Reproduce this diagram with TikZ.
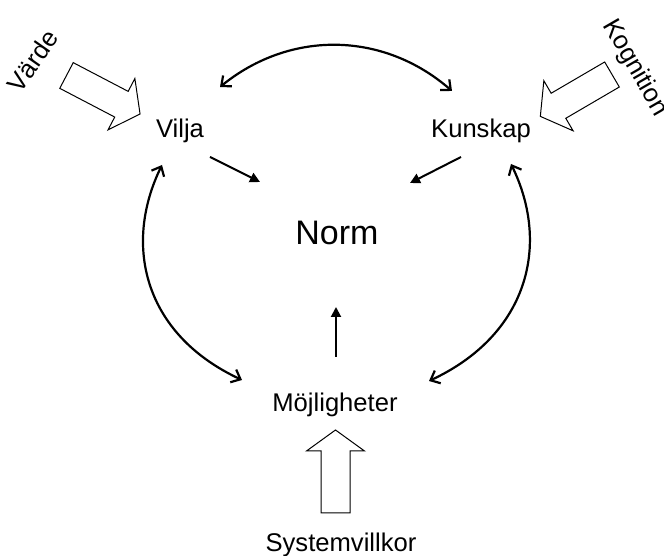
\documentclass[tikz,border=0pt]{standalone}
\usepackage{fontspec}
\setmainfont{Liberation Sans}
\usetikzlibrary{arrows.meta}

\tikzset{
  lbl/.style={font=\fontsize{12.8}{15}\selectfont, inner sep=0pt},
  loop arrow/.style={line width=1.1pt, {Straight Barb[length=4pt,width=7pt]}-{Straight Barb[length=4pt,width=7pt]}},
  push arrow/.style={line width=1pt, -{Triangle[length=5pt,width=5pt]}},
  fat arrow/.pic={
    \draw[line width=0.5pt, line join=miter] (0,-14.5) -- (62,-14.5) -- (62,-29) -- (83,0)
      -- (62,29) -- (62,14.5) -- (0,14.5) -- cycle;
  }
}

\begin{document}
\begin{tikzpicture}[x=0.5pt, y=0.5pt]
    \useasboundingbox (0,0) rectangle (664,556);

    % the four corners of the triangle
    \node[lbl, anchor=base] (vilja) at (180,418) {Vilja};
    \node[lbl, anchor=base] (kunskap) at (481,418) {Kunskap};
    \node[lbl, anchor=base] (mojl) at (335,144) {Möjligheter};
    \node[lbl, anchor=base, font=\fontsize{17}{20}\selectfont] (norm) at (337,311) {Norm};

    % outside influences
    \node[lbl, rotate=55] (varde) at (33,495) {Värde};
    \node[lbl, rotate=-60] (kogn) at (635,488) {Kognition};
    \node[lbl, anchor=base] (sysv) at (341,4) {Systemvillkor};

    \pic[rotate=-27.6] at (66.5,480.5) {fat arrow};
    \pic[rotate=210.3] at (612,481.5) {fat arrow};
    \pic[rotate=90] at (335.5,43) {fat arrow};

    % arrow ends
    \coordinate (v-top) at (220,469);
    \coordinate (k-top) at (452,465);
    \coordinate (v-low) at (162,391);
    \coordinate (k-low) at (511,392);
    \coordinate (m-left) at (242,176);
    \coordinate (m-right) at (429,175);
    \coordinate (v-in) at (210,399);
    \coordinate (k-in) at (461,399);
    \coordinate (m-in) at (336,199);
    \coordinate (n-left) at (260,374);
    \coordinate (n-right) at (410,373);
    \coordinate (n-low) at (336,249);

    \draw[loop arrow] (v-top) to[bend left=40] (k-top);
    \draw[loop arrow] (m-left) to[out=155, in=244, out looseness=1.2] (v-low);
    \draw[loop arrow] (m-right) to[out=25, in=296, out looseness=1.2] (k-low);

    \draw[push arrow] (v-in) -- (n-left);
    \draw[push arrow] (k-in) -- (n-right);
    \draw[push arrow] (m-in) -- (n-low);
\end{tikzpicture}
\end{document}
